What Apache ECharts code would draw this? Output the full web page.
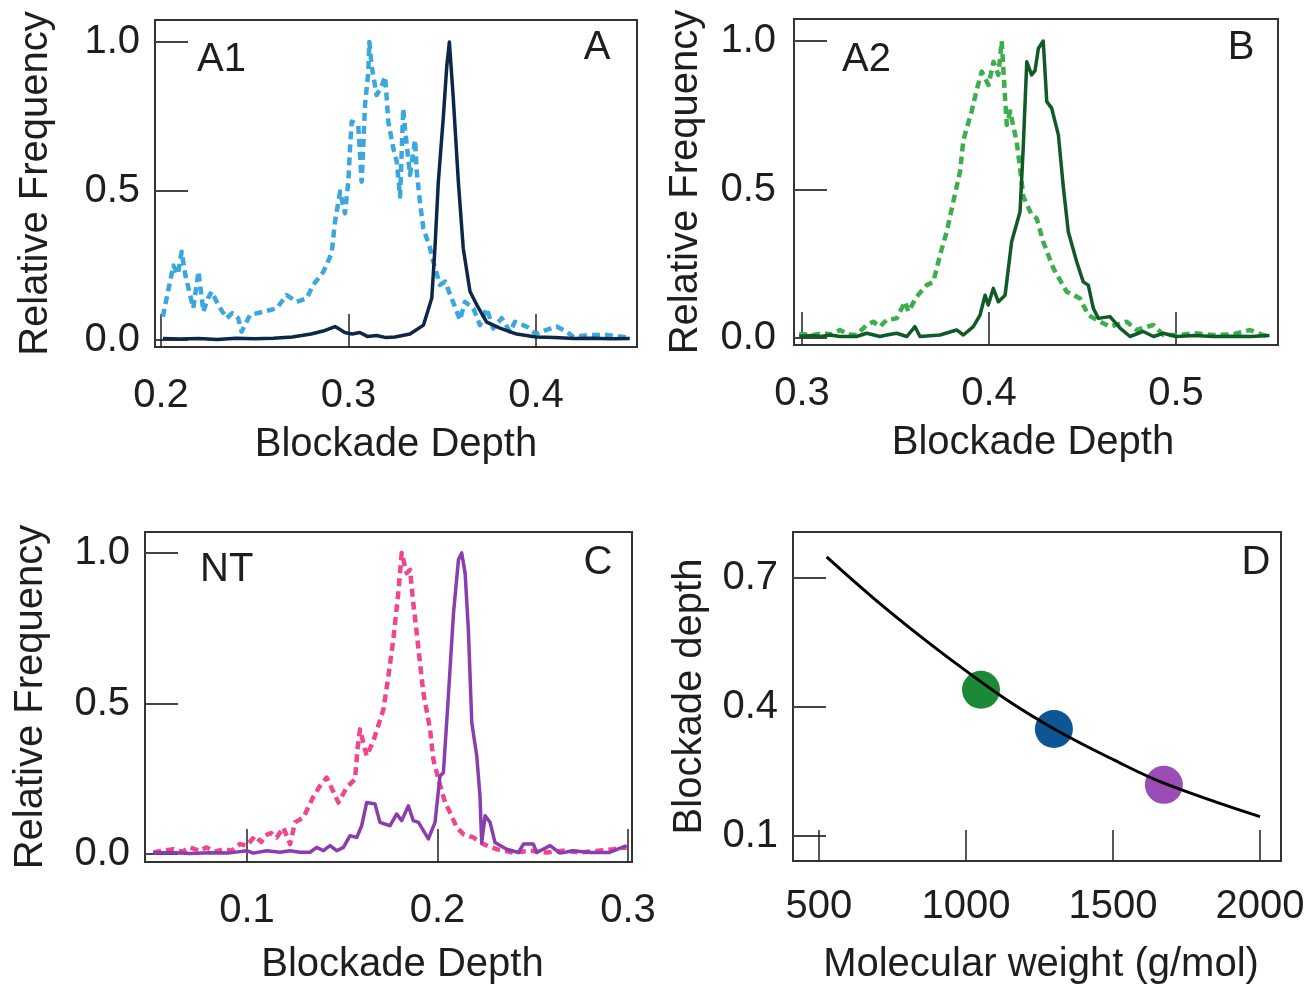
<!DOCTYPE html>
<html>
<head>
<meta charset="utf-8">
<script src="https://cdn.jsdelivr.net/npm/echarts@6/dist/echarts.min.js"></script>
<style>
  html, body { margin: 0; padding: 0; background: #fff; }
  #chart { width: 1309px; height: 986px; }
</style>
</head>
<body>
<div id="chart"></div>
<script>
// ---- Panel A: A1 (dashed) and A (solid) blockade-depth histograms ----
const a1Depth = [0.201,0.203,0.2066,0.209,0.211,0.213,0.2172,0.22,0.2226,0.225,0.227,0.2306,0.235,0.238,0.2412,0.243,0.2475,0.2546,0.2617,0.267,0.2724,0.2777,0.2812,0.2866,0.291,0.2928,0.2955,0.2981,0.2999,0.3008,0.3017,0.3052,0.307,0.3079,0.3088,0.3106,0.3111,0.3124,0.315,0.3175,0.3195,0.3204,0.3212,0.3239,0.3257,0.3275,0.3292,0.3301,0.3328,0.3355,0.3364,0.3381,0.3399,0.3435,0.3452,0.3488,0.3515,0.355,0.3595,0.3621,0.3666,0.3701,0.3737,0.3772,0.3817,0.3861,0.3888,0.395,0.40,0.4057,0.411,0.4164,0.42,0.4288,0.4377,0.4466,0.4501];
const a1Freq  = [0.078,0.14,0.25,0.22,0.296,0.218,0.107,0.23,0.095,0.14,0.162,0.117,0.073,0.09,0.073,0.028,0.084,0.095,0.106,0.151,0.128,0.14,0.185,0.229,0.291,0.397,0.498,0.425,0.531,0.643,0.733,0.721,0.531,0.654,0.789,0.90,1.0,0.917,0.822,0.85,0.884,0.811,0.733,0.643,0.60,0.481,0.777,0.711,0.554,0.671,0.565,0.464,0.375,0.308,0.263,0.185,0.196,0.14,0.067,0.128,0.106,0.05,0.106,0.039,0.073,0.028,0.061,0.045,0.02,0.034,0.045,0.028,0.01,0.017,0.017,0.01,0.005];
const aDepth = [0.201,0.21,0.22,0.23,0.24,0.25,0.26,0.27,0.28,0.2865,0.2928,0.2955,0.298,0.302,0.306,0.31,0.315,0.32,0.3248,0.3328,0.34,0.3444,0.3461,0.3479,0.3506,0.3524,0.3538,0.3559,0.3586,0.3612,0.3648,0.3684,0.3737,0.3808,0.3897,0.40,0.41,0.42,0.43,0.44,0.45];
const aFreq  = [0.005,0.003,0.005,0.002,0.006,0.004,0.006,0.01,0.02,0.03,0.045,0.035,0.025,0.02,0.025,0.012,0.015,0.008,0.01,0.02,0.05,0.14,0.308,0.53,0.75,0.917,1.0,0.81,0.53,0.308,0.163,0.118,0.06,0.04,0.02,0.01,0.008,0.005,0.006,0.004,0.005];

// ---- Panel B: A2 (dashed) and B (solid) ----
const a2Depth = [0.2985,0.3007,0.306,0.3114,0.316,0.3203,0.325,0.3292,0.3346,0.3381,0.3417,0.3453,0.3506,0.3551,0.3569,0.3613,0.3667,0.3702,0.3738,0.3774,0.3809,0.3845,0.3863,0.3907,0.3934,0.3961,0.3997,0.4024,0.405,0.4068,0.4086,0.4095,0.4113,0.4148,0.4166,0.4184,0.4228,0.4255,0.429,0.4344,0.4415,0.4487,0.4531,0.4576,0.4647,0.4736,0.479,0.4879,0.4933,0.5021,0.51,0.52,0.53,0.5396,0.5465,0.5503];
const a2Freq  = [0.012,0.013,0.01,0.016,0.012,0.027,0.012,0.01,0.044,0.055,0.038,0.061,0.066,0.122,0.089,0.139,0.178,0.189,0.279,0.358,0.459,0.56,0.667,0.763,0.835,0.897,0.852,0.93,0.886,1.0,0.807,0.717,0.763,0.661,0.572,0.476,0.415,0.403,0.324,0.235,0.156,0.133,0.077,0.061,0.038,0.055,0.027,0.044,0.01,0.01,0.016,0.01,0.012,0.027,0.01,0.005];
const bDepth = [0.2985,0.305,0.31,0.315,0.3203,0.3292,0.3346,0.3417,0.3453,0.3506,0.356,0.3604,0.3631,0.3738,0.3827,0.3863,0.3916,0.3952,0.3979,0.3996,0.4023,0.405,0.4086,0.4121,0.4166,0.4183,0.4202,0.4228,0.4246,0.4264,0.429,0.4309,0.4335,0.4371,0.4398,0.4424,0.4469,0.4504,0.4531,0.4558,0.4585,0.4647,0.4701,0.4754,0.4825,0.4879,0.4933,0.50,0.51,0.52,0.53,0.54,0.55];
const bFreq  = [0.005,0.008,0.005,0.01,0.005,0.005,0.016,0.005,0.01,0.016,0.005,0.038,0.005,0.01,0.027,0.01,0.038,0.077,0.144,0.111,0.167,0.122,0.144,0.324,0.425,0.64,0.93,0.886,0.90,0.975,1.0,0.796,0.774,0.684,0.505,0.358,0.257,0.189,0.178,0.1,0.066,0.072,0.033,0.005,0.022,0.005,0.016,0.005,0.008,0.005,0.006,0.005,0.008];

// ---- Panel C: NT (dashed) and C (solid) ----
const ntDepth = [0.0508,0.056,0.0613,0.066,0.0701,0.075,0.0788,0.083,0.0876,0.092,0.0963,0.1,0.1042,0.1075,0.1094,0.1125,0.1156,0.1191,0.1226,0.1252,0.1296,0.1348,0.1383,0.1418,0.148,0.1523,0.1567,0.158,0.1593,0.1628,0.1663,0.1716,0.1742,0.1768,0.1794,0.1812,0.1838,0.1856,0.1873,0.1891,0.1908,0.1926,0.1961,0.1978,0.2005,0.204,0.2066,0.2101,0.2136,0.2188,0.2241,0.2311,0.2398,0.2485,0.257,0.266,0.275,0.284,0.2923,0.2993];
const ntFreq  = [0.005,0.011,0.016,0.008,0.022,0.011,0.022,0.008,0.016,0.011,0.033,0.028,0.06,0.04,0.061,0.07,0.055,0.088,0.033,0.105,0.121,0.19,0.226,0.254,0.171,0.221,0.248,0.348,0.414,0.326,0.375,0.48,0.59,0.712,0.866,1.0,0.933,0.944,0.833,0.734,0.635,0.535,0.414,0.315,0.248,0.171,0.138,0.088,0.066,0.055,0.033,0.016,0.005,0.011,0.005,0.011,0.005,0.011,0.016,0.022];
const cDepth = [0.0508,0.06,0.07,0.08,0.09,0.0963,0.0998,0.1033,0.1103,0.1173,0.1226,0.1278,0.1331,0.1366,0.1401,0.1436,0.1471,0.1506,0.1541,0.1576,0.1602,0.1628,0.1672,0.1698,0.1751,0.1786,0.1812,0.1847,0.1873,0.19,0.1952,0.1987,0.2013,0.2031,0.2057,0.2084,0.211,0.2127,0.2145,0.2162,0.218,0.2206,0.2223,0.2232,0.225,0.2276,0.2302,0.2363,0.2425,0.2451,0.2503,0.2521,0.2591,0.2643,0.2713,0.28,0.29,0.2993];
const cFreq  = [0.003,0.005,0.002,0.004,0.003,0.008,0.011,0.003,0.011,0.006,0.011,0.006,0.006,0.022,0.011,0.028,0.011,0.022,0.061,0.055,0.094,0.171,0.166,0.105,0.094,0.133,0.111,0.16,0.111,0.105,0.05,0.105,0.259,0.27,0.524,0.8,0.977,1.0,0.933,0.745,0.436,0.326,0.193,0.038,0.127,0.105,0.038,0.016,0.005,0.033,0.033,0.005,0.028,0.003,0.011,0.005,0.005,0.028];

// ---- Panel D: blockade depth vs molecular weight ----
const fitWeight = [526,684,855,1000,1138,1300,1503,1673,2000];
const fitDepth  = [0.749,0.654,0.559,0.484,0.417,0.349,0.277,0.223,0.145];
const pointWeight = [1051,1299,1673];
const pointDepth  = [0.44,0.349,0.219];
const pointColors = ['#1a8a37','#0c5694','#9a4db5'];

// tick labels
const ticksA = [0.2,0.3,0.4];
const ticksB = [0.3,0.4,0.5];
const ticksC = [0.1,0.2,0.3];
const ticksFreq = [0,0.5,1.0];
const ticksWeight = [500,1000,1500,2000];
const ticksDepthD = [0.1,0.4,0.7];

const FONT = '"Liberation Sans", Arial, Helvetica, sans-serif';
const TEXT = '#1e1e1e';
const FS = 40;

const zip = (xs, ys) => xs.map((x, i) => [x, ys[i]]);

function grid(left, top, width, height) {
  return { left, top, width, height, show: true, borderColor: '#333', borderWidth: 2,
           backgroundColor: 'transparent', containLabel: false };
}

function xAxis(idx, min, max, ticks, name, digits, tickLen, labelMargin, nameGap, nameShift) {
  return {
    gridIndex: idx, type: 'value', min, max,
    axisLine: { show: false, onZero: false },
    splitLine: { show: false },
    axisTick: { show: true, inside: true, length: tickLen, customValues: ticks,
                lineStyle: { color: '#222', width: 1.5 } },
    axisLabel: { customValues: ticks, margin: labelMargin, fontSize: FS, fontFamily: FONT, color: TEXT,
                 formatter: v => v.toFixed(digits) },
    name, nameLocation: 'middle', nameGap,
    nameTextStyle: { fontSize: FS, fontFamily: FONT, color: TEXT,
                     padding: nameShift > 0 ? [0, 0, 0, 2 * nameShift] : [0, -2 * (nameShift || 0), 0, 0] }
  };
}

function yAxis(idx, min, max, ticks, name, nameGap, labelMargin) {
  return {
    gridIndex: idx, type: 'value', min, max,
    axisLine: { show: false, onZero: false },
    splitLine: { show: false },
    axisTick: { show: true, inside: true, length: 33, customValues: ticks,
                lineStyle: { color: '#444', width: 2 } },
    axisLabel: { customValues: ticks, margin: labelMargin, fontSize: FS, fontFamily: FONT, color: TEXT,
                 formatter: v => v.toFixed(1) },
    name, nameLocation: 'middle', nameGap, nameRotate: 90,
    nameTextStyle: { fontSize: FS, fontFamily: FONT, color: TEXT }
  };
}

function hist(idx, xs, ys, color, dashed) {
  return {
    type: 'line', xAxisIndex: idx, yAxisIndex: idx, data: zip(xs, ys),
    showSymbol: false, silent: true, animation: false,
    lineStyle: { color, width: dashed ? 4.5 : 3.5, type: dashed ? [8, 5] : 'solid',
                 cap: 'butt', join: 'round' },
    z: dashed ? 2 : 3
  };
}

function label(text, x, y, align) {
  return { type: 'text', x, y, style: { text, fontSize: FS, fontFamily: FONT, fill: TEXT,
           align: align || 'left', verticalAlign: 'middle' } };
}

const chart = echarts.init(document.getElementById('chart'), null, { renderer: 'canvas' });

chart.setOption({
  backgroundColor: '#fff',
  animation: false,
  grid: [
    grid(155, 20, 482, 327),
    grid(794, 19, 484, 326),
    grid(145, 532, 487, 331),
    grid(793, 532, 488, 329)
  ],
  xAxis: [
    xAxis(0, 0.19680, 0.45387, ticksA, 'Blockade Depth', 1, 33, 29, 78, 0),
    xAxis(1, 0.29572, 0.55455, ticksB, 'Blockade Depth', 1, 33, 29, 78, -3),
    xAxis(2, 0.04646, 0.30210, ticksC, 'Blockade Depth', 1, 33, 29, 83, 14),
    xAxis(3, 411.6, 2071.4, ticksWeight, 'Molecular weight (g/mol)', 0, 31, 26, 84, 4)
  ],
  yAxis: [
    yAxis(0, -0.0235, 1.0738, ticksFreq, 'Relative Frequency', 99, 15),
    yAxis(1, -0.0236, 1.0741, ticksFreq, 'Relative Frequency', 88, 18),
    yAxis(2, -0.0265, 1.0695, ticksFreq, 'Relative Frequency', 94, 15),
    yAxis(3, 0.0419, 0.8070, ticksDepthD, 'Blockade depth', 83, 15)
  ],
  series: [
    hist(0, a1Depth, a1Freq, '#3aa7de', true),
    hist(0, aDepth, aFreq, '#0c2748', false),
    hist(1, a2Depth, a2Freq, '#3dae4c', true),
    hist(1, bDepth, bFreq, '#0f5a25', false),
    hist(2, ntDepth, ntFreq, '#f0468f', true),
    hist(2, cDepth, cFreq, '#8a3dad', false),
    {
      type: 'line', xAxisIndex: 3, yAxisIndex: 3, data: zip(fitWeight, fitDepth),
      smooth: 0.4, showSymbol: false, silent: true,
      lineStyle: { color: '#000', width: 3 }, z: 4
    },
    {
      type: 'scatter', xAxisIndex: 3, yAxisIndex: 3, symbolSize: 38, silent: true,
      data: pointWeight.map((w, i) => ({ value: [w, pointDepth[i]],
                                          itemStyle: { color: pointColors[i], opacity: 1 } })),
      z: 3
    }
  ],
  graphic: [
    label('A1', 197, 60), label('A', 597, 48, 'center'),
    label('A2', 842, 60), label('B', 1241, 48, 'center'),
    label('NT', 200, 570), label('C', 598, 563, 'center'),
    label('D', 1256, 563, 'center')
  ]
});
</script>
</body>
</html>
